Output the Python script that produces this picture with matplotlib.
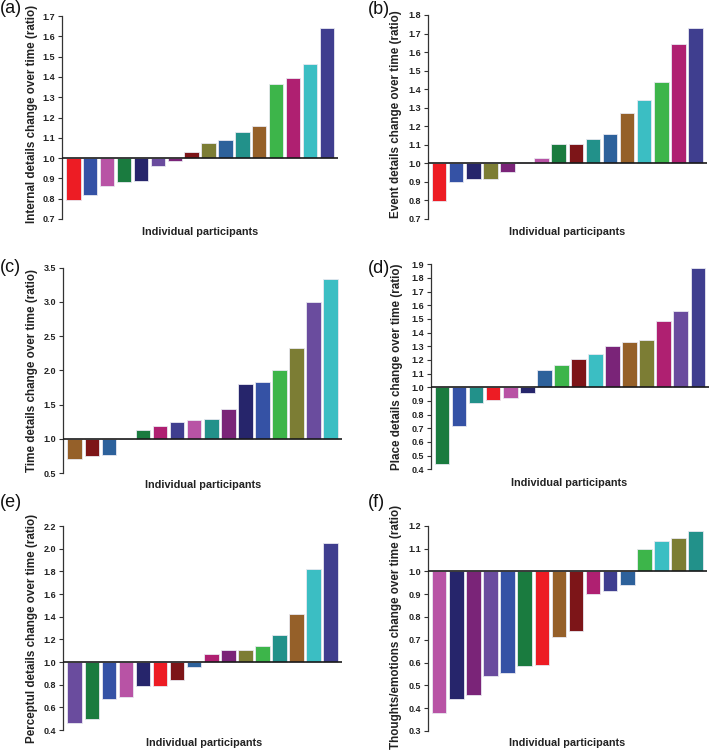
import matplotlib
matplotlib.use("Agg")
import matplotlib.pyplot as plt

plt.rcParams['font.family'] = ['Liberation Sans', 'DejaVu Sans']

# colour palette (named)
RED = "#ED1C24"; BLUE = "#3552A5"; ORCHID = "#B853A5"; DKGREEN = "#1A7B3F"
NAVY = "#26256B"; PURPLE = "#6A4C9E"; PLUM = "#7A2478"; DKRED = "#7D1518"
OLIVE = "#7C7D34"; STEEL = "#2D619B"; TEAL = "#22918A"; BROWN = "#956029"
LTGREEN = "#3DB54A"; MAGENTA = "#AF2071"; CYAN = "#3BBEC3"; INDIGO = "#3F3E8F"

# (a) Internal details
a_vals = [0.795, 0.820, 0.862, 0.884, 0.888, 0.960, 0.987, 1.028,
          1.076, 1.088, 1.127, 1.160, 1.367, 1.393, 1.463, 1.643]
a_cols = [RED, BLUE, ORCHID, DKGREEN, NAVY, PURPLE, PLUM, DKRED,
          OLIVE, STEEL, TEAL, BROWN, LTGREEN, MAGENTA, CYAN, INDIGO]

# (b) Event details
b_vals = [0.797, 0.902, 0.913, 0.917, 0.955, 1.009, 1.030, 1.102,
          1.107, 1.130, 1.158, 1.273, 1.340, 1.440, 1.645, 1.728]
b_cols = [RED, BLUE, NAVY, OLIVE, PLUM, PURPLE, ORCHID, DKGREEN,
          DKRED, TEAL, STEEL, BROWN, CYAN, LTGREEN, MAGENTA, INDIGO]

# (c) Time details
c_vals = [0.70, 0.75, 0.76, 1.00, 1.13, 1.18, 1.25, 1.27,
          1.29, 1.43, 1.80, 1.83, 2.00, 2.33, 3.00, 3.33]
c_cols = [BROWN, DKRED, STEEL, RED, DKGREEN, MAGENTA, INDIGO, ORCHID,
          TEAL, PLUM, NAVY, BLUE, LTGREEN, OLIVE, PURPLE, CYAN]

# (d) Place details
d_vals = [0.440, 0.720, 0.885, 0.905, 0.925, 0.955, 1.130, 1.160,
          1.205, 1.245, 1.300, 1.333, 1.345, 1.485, 1.555, 1.875]
d_cols = [DKGREEN, BLUE, TEAL, RED, ORCHID, NAVY, STEEL, LTGREEN,
          DKRED, CYAN, PLUM, BROWN, OLIVE, MAGENTA, PURPLE, INDIGO]

# (e) Perceptual details
e_vals = [0.465, 0.495, 0.670, 0.695, 0.785, 0.785, 0.840, 0.955,
          1.070, 1.110, 1.110, 1.145, 1.240, 1.420, 1.825, 2.050]
e_cols = [PURPLE, DKGREEN, BLUE, ORCHID, NAVY, RED, DKRED, STEEL,
          MAGENTA, PLUM, OLIVE, LTGREEN, TEAL, BROWN, CYAN, INDIGO]

# (f) Thoughts/emotions
f_vals = [0.380, 0.440, 0.460, 0.540, 0.555, 0.585, 0.590, 0.710,
          0.740, 0.900, 0.915, 0.940, 1.100, 1.135, 1.145, 1.175]
f_cols = [ORCHID, NAVY, PLUM, PURPLE, BLUE, DKGREEN, RED, BROWN,
          DKRED, MAGENTA, INDIGO, STEEL, LTGREEN, CYAN, OLIVE, TEAL]

panels = [
    dict(tag="(a)", vals=a_vals, cols=a_cols,
         ylabel="Internal details change over time (ratio)",
         ticks=[0.7, 0.8, 0.9, 1.0, 1.1, 1.2, 1.3, 1.4, 1.5, 1.6, 1.7], fmt="{:.1f}",
         box=(62, 16, 338, 219), tagxy=(0, 13), xl=(200, 232), yl=(31.7, 114)),
    dict(tag="(b)", vals=b_vals, cols=b_cols,
         ylabel="Event details change over time (ratio)",
         ticks=[0.7, 0.8, 0.9, 1.0, 1.1, 1.2, 1.3, 1.4, 1.5, 1.6, 1.7, 1.8], fmt="{:.1f}",
         box=(427.7, 15, 706.7, 219), tagxy=(368, 14), xl=(567, 232), yl=(396, 114)),
    dict(tag="(c)", vals=c_vals, cols=c_cols,
         ylabel="Time details change over time (ratio)",
         ticks=[0.5, 1.0, 1.5, 2.0, 2.5, 3.0, 3.5], fmt="{:.1f}",
         box=(63.3, 267.7, 342, 473), tagxy=(0, 272), xl=(203, 485), yl=(31.7, 370)),
    dict(tag="(d)", vals=d_vals, cols=d_cols,
         ylabel="Place details change over time (ratio)",
         ticks=[0.4, 0.5, 0.6, 0.7, 0.8, 0.9, 1.0, 1.1, 1.2, 1.3, 1.4, 1.5, 1.6, 1.7, 1.8, 1.9],
         fmt="{:.1f}",
         box=(430.7, 264.3, 709, 469.3), tagxy=(368, 273), xl=(569, 482.7), yl=(396.7, 366.7)),
    dict(tag="(e)", vals=e_vals, cols=e_cols,
         ylabel="Perceptul details change over time (ratio)",
         ticks=[0.4, 0.6, 0.8, 1.0, 1.2, 1.4, 1.6, 1.8, 2.0, 2.2], fmt="{:.1f}",
         box=(63.3, 526, 342, 730), tagxy=(0, 507), xl=(204, 743), yl=(32.3, 628)),
    dict(tag="(f)", vals=f_vals, cols=f_cols,
         ylabel="Thoughts/emotions change over time (ratio)",
         ticks=[0.3, 0.4, 0.5, 0.6, 0.7, 0.8, 0.9, 1.0, 1.1, 1.2], fmt="{:.1f}",
         box=(427.7, 525.7, 707, 731), tagxy=(368, 507), xl=(567.5, 743), yl=(396, 626.7)),
]

W, H = 709, 750
fig = plt.figure(figsize=(W / 100, H / 100), dpi=100)
fig.patch.set_facecolor("white")

for p in panels:
    x0, y0, x1, y1 = p["box"]
    ax = fig.add_axes([x0 / W, 1 - y1 / H, (x1 - x0) / W, (y1 - y0) / H])
    n = len(p["vals"])
    xs = list(range(n))
    heights = [v - 1.0 for v in p["vals"]]
    ax.bar(xs, heights, bottom=1.0, width=0.85, color=p["cols"],
           edgecolor="#E8E8F0", linewidth=0.6, zorder=2)
    ax.set_xlim(-0.67, n - 1 + 0.66)
    ax.set_ylim(p["ticks"][0], p["ticks"][-1])
    ax.axhline(1.0, color="#1a1a1a", linewidth=1.2, zorder=3)
    for s in ("top", "right", "bottom"):
        ax.spines[s].set_visible(False)
    ax.spines["left"].set_color("#333333")
    ax.spines["left"].set_linewidth(0.9)
    ax.set_xticks([])
    ax.set_yticks(p["ticks"])
    ax.set_yticklabels([p["fmt"].format(t) for t in p["ticks"]],
                       fontsize=6.5, fontweight="bold", color="#222222")
    ax.tick_params(axis="y", direction="out", length=3, width=0.8,
                   color="#333333", pad=2)
    ax.patch.set_alpha(0)
    fig.text(p["xl"][0] / W, 1 - p["xl"][1] / H, "Individual participants",
             ha="center", va="center", fontsize=7.8, fontweight="bold", color="#222222")
    fig.text(p["yl"][0] / W, 1 - p["yl"][1] / H, p["ylabel"], rotation=90,
             ha="center", va="center", fontsize=8.4, fontweight="bold", color="#222222")
    fig.text(p["tagxy"][0] / W, 1 - p["tagxy"][1] / H, p["tag"],
             ha="left", va="baseline", fontsize=13, color="#111111")

fig.savefig("out.png", dpi=100)
